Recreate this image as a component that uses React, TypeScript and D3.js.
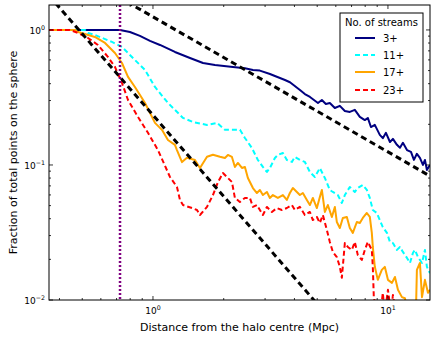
import React from 'react';
import * as d3 from 'd3';

type P = [number, number];

const W = 436;
const H = 339;
const M = { left: 49, right: 6, top: 5, bottom: 39 };
const xDomain: [number, number] = [0.361, 15.1];
const yDomain: [number, number] = [0.01, 1.53];

const legendTitle = 'No. of streams';
const seriesLabels = ['3+', '11+', '17+', '23+'];
const xLabel = 'Distance from the halo centre (Mpc)';
const yLabel = 'Fraction of total points on the sphere';
const xMajorTicks = [1, 10];
const yMajorTicks = [0.01, 0.1, 1];
const radiusMark = 0.724;
// power-law reference lines: y = amp * x^index
const powerAmps = [0.234, 1.25];
const powerIndex = [-2, -1];

const streams3: P[] = [
  [0.361, 1.0], [0.724, 1.0], [0.798, 0.966], [0.88, 0.903], [0.971, 0.829], [1.071, 0.774],
  [1.24, 0.687], [1.437, 0.62], [1.633, 0.569], [1.836, 0.55], [2.19, 0.532], [2.462, 0.52],
  [2.664, 0.505], [2.85, 0.5], [3.147, 0.472], [3.303, 0.456], [3.471, 0.441], [3.645, 0.426],
  [3.828, 0.41], [4.222, 0.359], [4.43, 0.335], [4.657, 0.319], [5.037, 0.288], [5.233, 0.303],
  [5.442, 0.283], [5.659, 0.288], [5.943, 0.264], [6.241, 0.274], [6.555, 0.251], [6.883, 0.247],
  [7.229, 0.256], [7.592, 0.227], [7.973, 0.215], [8.21, 0.223], [8.464, 0.191], [8.793, 0.198],
  [9.234, 0.167], [9.509, 0.158], [9.806, 0.173], [10.2, 0.148], [10.5, 0.156], [10.92, 0.141],
  [11.25, 0.134], [11.58, 0.146], [12.05, 0.129], [12.53, 0.125], [12.9, 0.109], [13.28, 0.121],
  [13.68, 0.113], [14.09, 0.1], [14.37, 0.109], [14.65, 0.0918], [15.09, 0.1],
];

const streams11: P[] = [
  [0.361, 1.0], [0.514, 1.0], [0.529, 0.95], [0.566, 0.918], [0.669, 0.815], [0.738, 0.748],
  [0.838, 0.599], [0.925, 0.505], [1.02, 0.378], [1.158, 0.288], [1.24, 0.256], [1.342, 0.223],
  [1.48, 0.208], [1.698, 0.198], [1.873, 0.205], [2.025, 0.182], [2.345, 0.182], [2.462, 0.1585],
  [2.637, 0.1336], [2.796, 0.1089], [2.936, 0.0967], [3.054, 0.0888], [3.145, 0.095], [3.303, 0.1127],
  [3.401, 0.1186], [3.572, 0.1227], [3.714, 0.1089], [3.901, 0.1053], [4.017, 0.1146], [4.219, 0.1089],
  [4.43, 0.1053], [4.653, 0.0888], [4.886, 0.0815], [5.131, 0.095], [5.389, 0.0801], [5.659, 0.0653],
  [5.828, 0.0631], [6.12, 0.0599], [6.365, 0.0523], [6.555, 0.0599], [6.883, 0.0687], [7.229, 0.0631],
  [7.444, 0.0675], [7.818, 0.0711], [8.13, 0.0653], [8.373, 0.057], [8.622, 0.0464], [8.966, 0.0441],
  [9.234, 0.0391], [9.509, 0.0347], [9.902, 0.0314], [10.198, 0.0269], [10.5, 0.0264], [10.92, 0.0235],
  [11.25, 0.0247], [11.58, 0.0227], [12.05, 0.0205], [12.41, 0.0188], [12.77, 0.0223], [13.03, 0.0235],
  [13.42, 0.0208], [13.96, 0.0188], [14.37, 0.0235], [14.65, 0.0176], [15.09, 0.0158],
];

const streams17: P[] = [
  [0.361, 1.0], [0.466, 1.0], [0.48, 0.966], [0.566, 0.887], [0.625, 0.801], [0.689, 0.675],
  [0.738, 0.569], [0.783, 0.449], [0.838, 0.378], [0.925, 0.288], [1.02, 0.205], [1.092, 0.182],
  [1.158, 0.153], [1.24, 0.141], [1.265, 0.129], [1.329, 0.105], [1.395, 0.113], [1.509, 0.109],
  [1.585, 0.095], [1.698, 0.115], [1.8, 0.119], [1.928, 0.115], [2.024, 0.1127], [2.084, 0.1186],
  [2.168, 0.1146], [2.232, 0.0967], [2.299, 0.1035], [2.391, 0.095], [2.462, 0.0967], [2.535, 0.0801],
  [2.663, 0.0675], [2.769, 0.062], [2.851, 0.0653], [2.936, 0.0599], [3.054, 0.0631], [3.145, 0.057],
  [3.239, 0.0599], [3.401, 0.057], [3.572, 0.0599], [3.714, 0.0551], [3.825, 0.062], [3.939, 0.0675],
  [4.096, 0.0631], [4.219, 0.0599], [4.344, 0.062], [4.518, 0.0551], [4.653, 0.0505], [4.791, 0.057],
  [4.983, 0.048], [5.131, 0.0579], [5.233, 0.0653], [5.389, 0.0449], [5.549, 0.0505], [5.771, 0.0412],
  [5.943, 0.0489], [6.061, 0.0378], [6.241, 0.0341], [6.427, 0.0405], [6.684, 0.0412], [6.883, 0.0341],
  [7.089, 0.0314], [7.372, 0.0378], [7.592, 0.0372], [7.818, 0.0405], [8.13, 0.0441], [8.373, 0.0412],
  [8.538, 0.0314], [8.622, 0.0247], [8.793, 0.0176], [9.055, 0.0141], [9.416, 0.0167], [9.697, 0.0176],
  [10.0, 0.0141], [10.4, 0.0134], [10.71, 0.0148], [11.03, 0.0119], [11.47, 0.0105], [11.81, 0.0103],
  [12.17, 0.008], [13.15, 0.008], [13.28, 0.0167], [13.68, 0.0188], [13.96, 0.0105], [14.37, 0.0141],
  [14.8, 0.0113], [15.09, 0.0119],
];

const streams23: P[] = [
  [0.361, 1.0], [0.443, 1.0], [0.48, 0.95], [0.529, 0.872], [0.583, 0.774], [0.643, 0.631],
  [0.689, 0.532], [0.738, 0.405], [0.783, 0.303], [0.863, 0.227], [0.952, 0.173], [1.05, 0.129],
  [1.181, 0.0815], [1.265, 0.0687], [1.303, 0.055], [1.342, 0.0505], [1.466, 0.048], [1.539, 0.0464],
  [1.585, 0.0426], [1.698, 0.0489], [1.8, 0.0599], [1.891, 0.0748], [1.986, 0.0872], [2.024, 0.0843],
  [2.168, 0.0748], [2.232, 0.057], [2.344, 0.0532], [2.462, 0.057], [2.585, 0.057], [2.663, 0.0489],
  [2.769, 0.0505], [2.851, 0.0464], [2.936, 0.0426], [3.054, 0.0489], [3.207, 0.0449], [3.368, 0.048],
  [3.537, 0.0464], [3.714, 0.048], [3.901, 0.0505], [4.017, 0.0464], [4.219, 0.0489], [4.43, 0.0426],
  [4.653, 0.0449], [4.791, 0.0391], [4.983, 0.0412], [5.131, 0.0372], [5.284, 0.0426], [5.495, 0.033],
  [5.659, 0.0269], [5.828, 0.0227], [6.061, 0.0208], [6.241, 0.0176], [6.365, 0.0146], [6.555, 0.0264],
  [6.75, 0.0247], [7.019, 0.0235], [7.229, 0.0269], [7.444, 0.0215], [7.742, 0.0198], [7.973, 0.0235],
  [8.21, 0.0269], [8.538, 0.0235], [8.622, 0.0176], [8.707, 0.0105], [8.966, 0.008], [9.3, 0.008],
  [9.509, 0.0113], [9.697, 0.008], [10.0, 0.0119], [10.3, 0.008], [10.5, 0.0109], [10.8, 0.008],
  [15.09, 0.008],
];

const seriesData = [streams3, streams11, streams17, streams23];
const seriesColors = ['#000080', '#00ffff', '#ffa500', '#ff0000'];
const seriesDash = [null, '5,3', null, '5,3'];

const FONT = 'DejaVu Sans, sans-serif';

function Pow({ base, exp, x, y, anchor, size }: { base: string; exp: string; x: number; y: number; anchor: string; size: number }) {
  return (
    <text x={x} y={y} textAnchor={anchor} fontFamily={FONT} fontSize={size} fill="#000">
      {base}
      <tspan fontSize={size * 0.7} dy={-size * 0.42}>{exp}</tspan>
    </text>
  );
}

export default function App() {
  const x = d3.scaleLog().domain(xDomain).range([M.left, W - M.right]);
  const y = d3.scaleLog().domain(yDomain).range([H - M.bottom, M.top]);
  const line = d3.line<P>().x((d) => x(d[0])).y((d) => y(d[1]));
  const x0 = M.left, x1 = W - M.right, y0 = M.top, y1 = H - M.bottom;

  const xTicks = x.ticks();
  const yTicks = y.ticks();
  const isMajor = (v: number) => Math.abs(Math.log10(v) - Math.round(Math.log10(v))) < 1e-6;

  const powerLines = powerAmps.map((a, i) => {
    const k = powerIndex[i];
    const pts: P[] = [xDomain[0], xDomain[1]].map((xv) => [xv, a * Math.pow(xv, k)] as P);
    return line(pts) || '';
  });

  const lx = 340, ly = 13, lw = 83, lh = 89;
  const entryY = [38, 55, 72, 90];

  return (
    <svg width={W} height={H} style={{ position: 'absolute', left: 0, top: 0, background: '#fff' }}>
      <defs>
        <clipPath id="plotclip">
          <rect x={x0} y={y0} width={x1 - x0} height={y1 - y0} />
        </clipPath>
      </defs>
      <rect x={0} y={0} width={W} height={H} fill="#fff" />
      <g clipPath="url(#plotclip)">
        {seriesData.map((s, i) => (
          <path key={i} d={line(s) || ''} fill="none" stroke={seriesColors[i]} strokeWidth={2}
            strokeDasharray={seriesDash[i] || undefined} strokeLinejoin="round" />
        ))}
        {powerLines.map((d, i) => (
          <path key={'p' + i} d={d} fill="none" stroke="#000" strokeWidth={3} strokeDasharray="6,4" />
        ))}
        <line x1={x(radiusMark)} x2={x(radiusMark)} y1={y0} y2={y1} stroke="#800080" strokeWidth={2.5} strokeDasharray="2,2" />
      </g>
      {xTicks.map((t, i) => {
        const len = isMajor(t) ? 4 : 2;
        const px = x(t);
        return (
          <g key={'xt' + i} stroke="#000" strokeWidth={0.8}>
            <line x1={px} x2={px} y1={y1} y2={y1 - len} />
            <line x1={px} x2={px} y1={y0} y2={y0 + len} />
          </g>
        );
      })}
      {yTicks.map((t, i) => {
        const len = isMajor(t) ? 4 : 2;
        const py = y(t);
        return (
          <g key={'yt' + i} stroke="#000" strokeWidth={0.8}>
            <line x1={x0} x2={x0 + len} y1={py} y2={py} />
            <line x1={x1} x2={x1 - len} y1={py} y2={py} />
          </g>
        );
      })}
      <rect x={x0} y={y0} width={x1 - x0} height={y1 - y0} fill="none" stroke="#000" strokeWidth={1} />
      {xMajorTicks.map((t, i) => (
        <Pow key={'xl' + i} base="10" exp={String(Math.round(Math.log10(t)))} x={x(t)} y={y1 + 14} anchor="middle" size={9} />
      ))}
      {yMajorTicks.map((t, i) => (
        <Pow key={'yl' + i} base="10" exp={String(Math.round(Math.log10(t))).replace('-', '\u2212')} x={45} y={y(t) + 4} anchor="end" size={9} />
      ))}
      <text x={(x0 + x1) / 2} y={331} textAnchor="middle" fontFamily={FONT} fontSize={11} fill="#000">{xLabel}</text>
      <text transform={`translate(17,${(y0 + y1) / 2}) rotate(-90)`} textAnchor="middle" fontFamily={FONT} fontSize={11} fill="#000">{yLabel}</text>
      <rect x={lx} y={ly} width={lw} height={lh} fill="#fff" stroke="#000" strokeWidth={1} />
      <text x={lx + lw / 2} y={ly + 13} textAnchor="middle" fontFamily={FONT} fontSize={10} fill="#000">{legendTitle}</text>
      {seriesLabels.map((lab, i) => (
        <g key={'lg' + i}>
          <line x1={355} x2={375} y1={entryY[i]} y2={entryY[i]} stroke={seriesColors[i]} strokeWidth={2}
            strokeDasharray={seriesDash[i] || undefined} />
          <text x={383} y={entryY[i] + 4} fontFamily={FONT} fontSize={10} fill="#000">{lab}</text>
        </g>
      ))}
    </svg>
  );
}
